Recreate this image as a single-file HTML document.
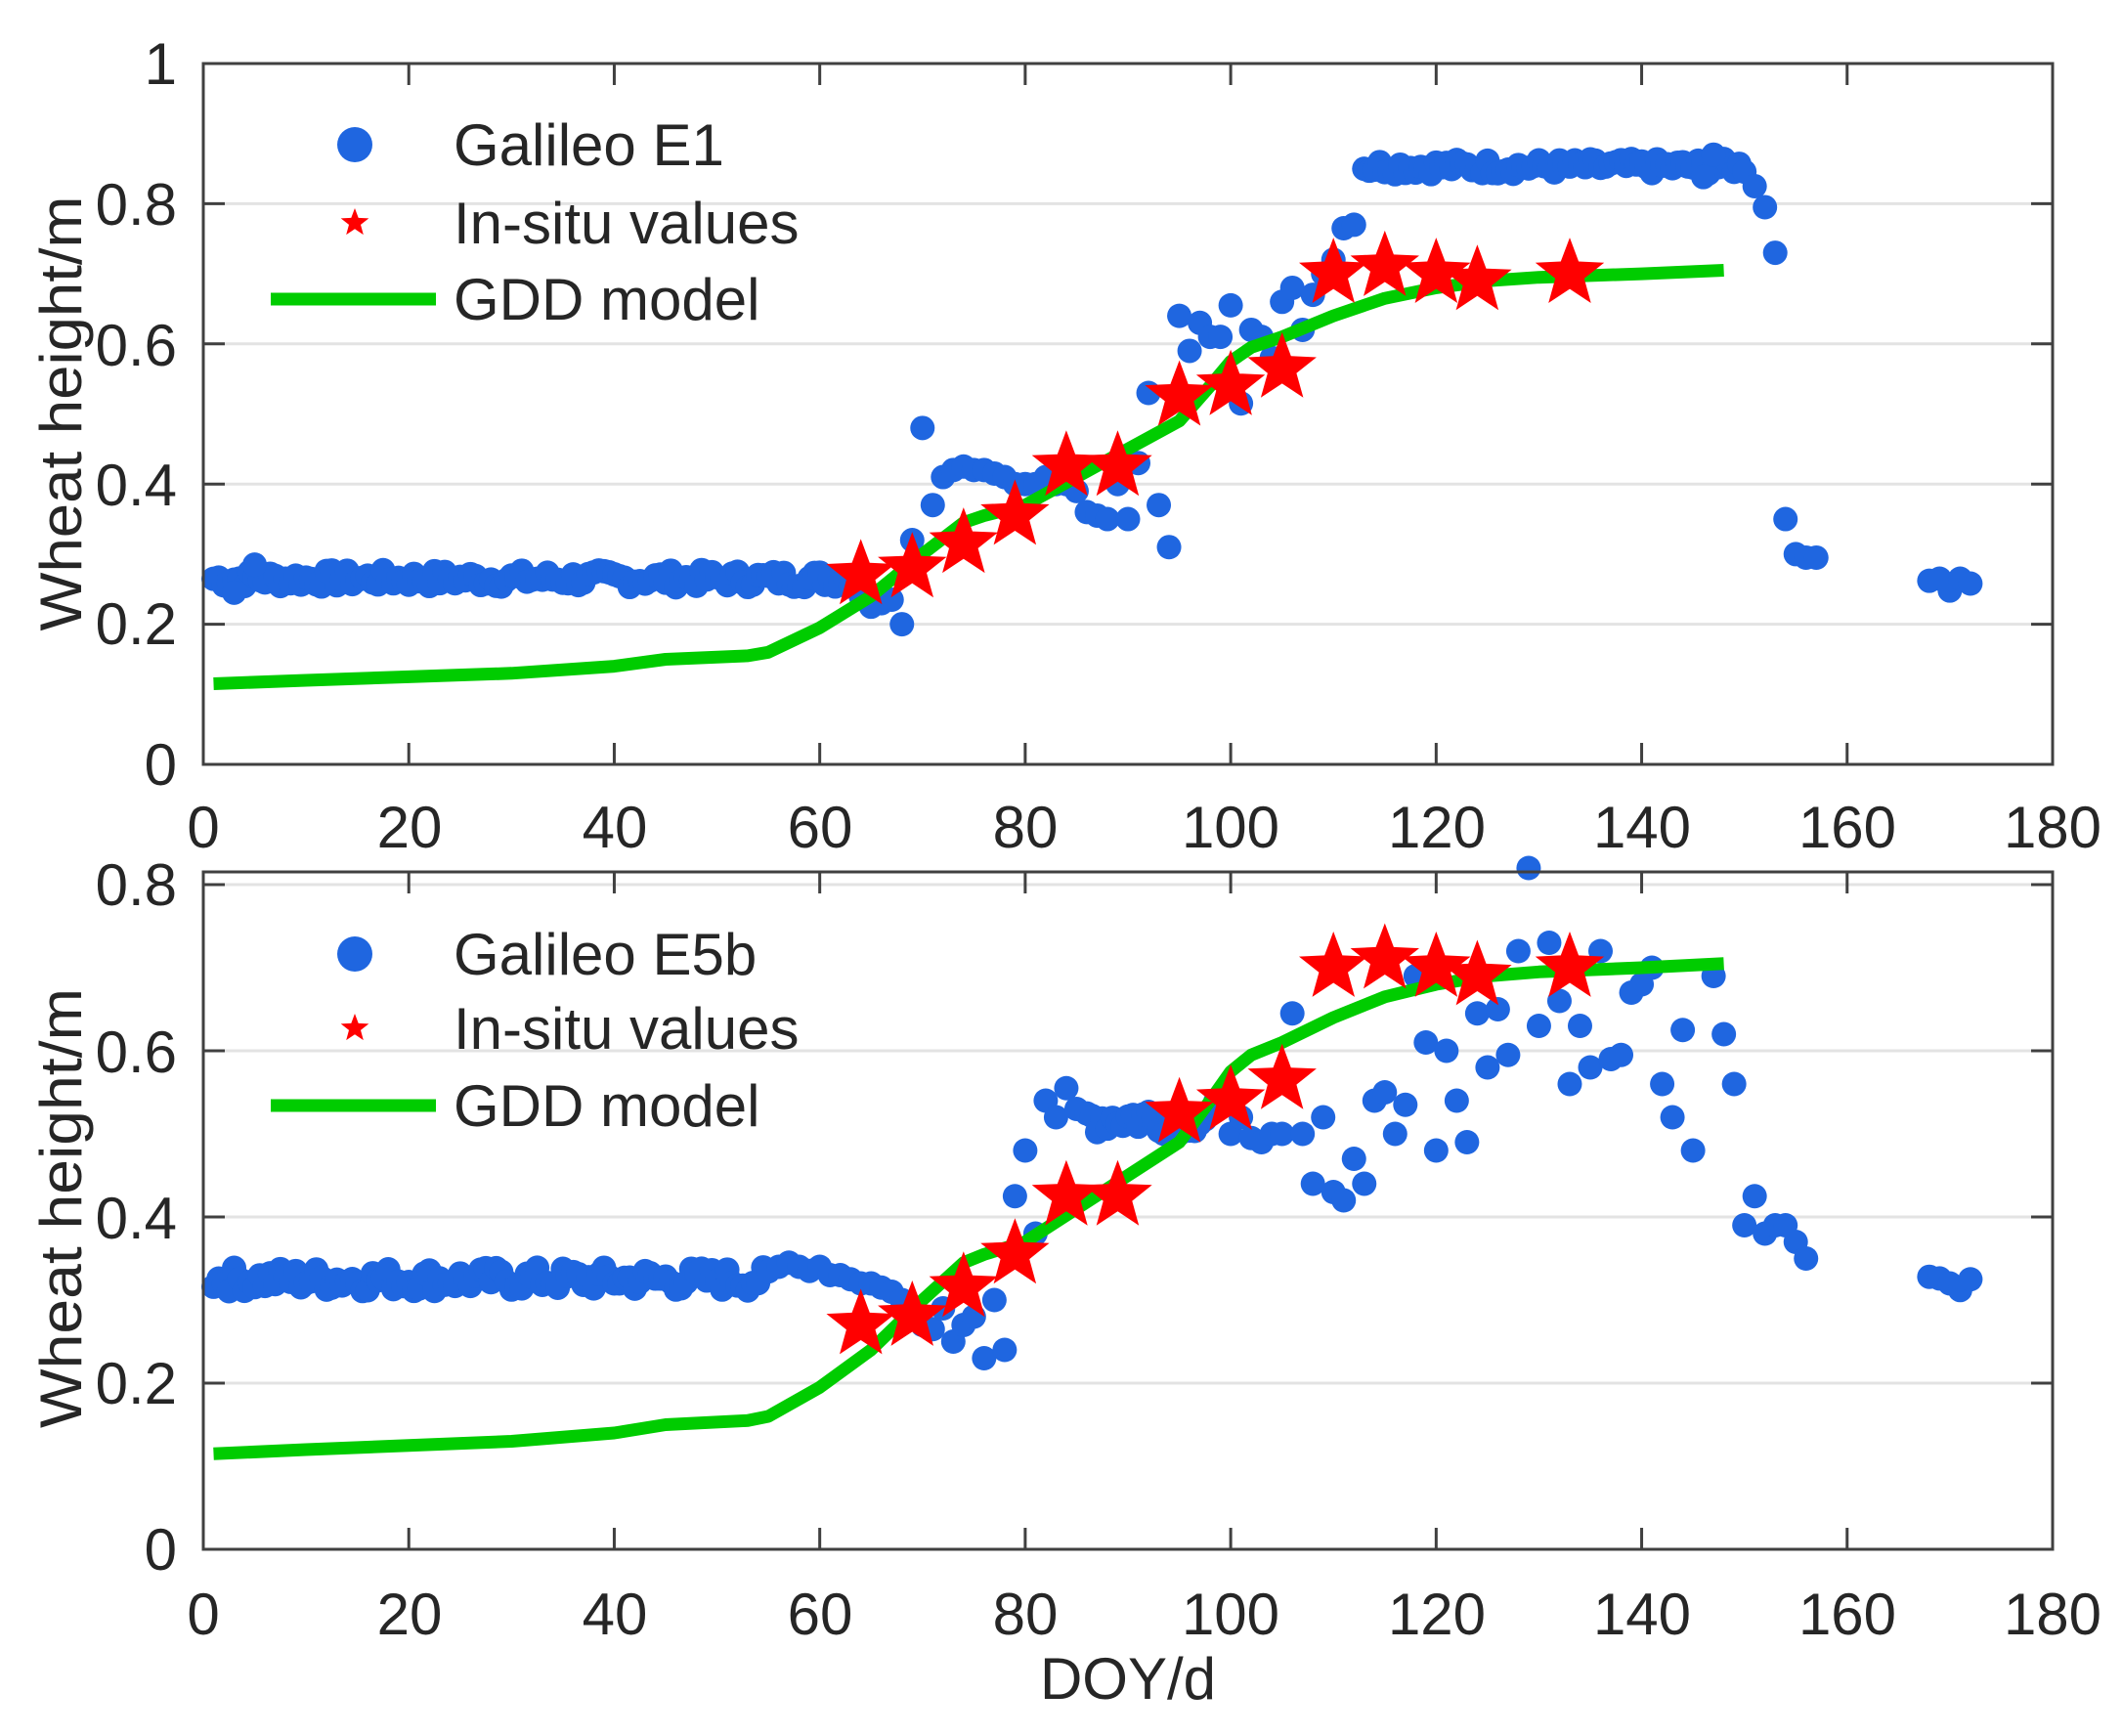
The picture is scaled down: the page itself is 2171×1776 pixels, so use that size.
<!DOCTYPE html>
<html><head><meta charset="utf-8"><style>
html,body{margin:0;padding:0;background:#fff;}
svg{display:block;}
text{font-family:"Liberation Sans",Arial,sans-serif;fill:#262626;}
</style></head><body>
<svg id="s" width="2171" height="1776" viewBox="0 0 2171 1776" xmlns="http://www.w3.org/2000/svg">
<rect width="2171" height="1776" fill="#fff"/>
<g id="g"></g>
<g font-size="60" text-anchor="end">
<text x="181" y="86">1</text>
<text x="181" y="230">0.8</text>
<text x="181" y="374">0.6</text>
<text x="181" y="517">0.4</text>
<text x="181" y="659">0.2</text>
<text x="181" y="803">0</text>
</g>
<g font-size="60" text-anchor="middle">
<text x="208" y="867">0</text><text x="419" y="867">20</text><text x="629" y="867">40</text>
<text x="839" y="867">60</text><text x="1049" y="867">80</text><text x="1259" y="867">100</text>
<text x="1470" y="867">120</text><text x="1680" y="867">140</text><text x="1890" y="867">160</text>
<text x="2100" y="867">180</text>
</g>
<g font-size="60" text-anchor="middle">
<text x="208" y="1672">0</text><text x="419" y="1672">20</text><text x="629" y="1672">40</text>
<text x="839" y="1672">60</text><text x="1049" y="1672">80</text><text x="1259" y="1672">100</text>
<text x="1470" y="1672">120</text><text x="1680" y="1672">140</text><text x="1890" y="1672">160</text>
<text x="2100" y="1672">180</text>
</g>
<g font-size="60" text-anchor="end">
<text x="181" y="926">0.8</text>
<text x="181" y="1097">0.6</text>
<text x="181" y="1267">0.4</text>
<text x="181" y="1436">0.2</text>
<text x="181" y="1606">0</text>
</g>
<text font-size="60" text-anchor="middle" transform="translate(83,423) rotate(-90)" textLength="445" lengthAdjust="spacingAndGlyphs">Wheat height/m</text>
<text font-size="60" text-anchor="middle" transform="translate(83,1236) rotate(-90)" textLength="450" lengthAdjust="spacingAndGlyphs">Wheat height/m</text>
<text font-size="60" x="1154" y="1738" text-anchor="middle">DOY/d</text>
<g font-size="60">
<text x="464" y="169">Galileo E1</text>
<text x="464" y="249">In-situ values</text>
<text x="464" y="327">GDD model</text>
<text x="464" y="997">Galileo E5b</text>
<text x="464" y="1073">In-situ values</text>
<text x="464" y="1152">GDD model</text>
</g>
</svg>
<script>
var g=document.getElementById('g'),NS='http://www.w3.org/2000/svg';
function el(t,a){var e=document.createElementNS(NS,t);for(var k in a)e.setAttribute(k,a[k]);g.appendChild(e);return e;}
var X0=208,XS=(2100-208)/180;
function px(d){return X0+d*XS;}
function star(cx,cy,R){var r=R*0.42,p=[];for(var i=0;i<10;i++){var a=-Math.PI/2+i*Math.PI/5,rr=i%2?r:R;p.push((cx+rr*Math.cos(a)).toFixed(1)+','+(cy+rr*Math.sin(a)).toFixed(1));}el('polygon',{points:p.join(' '),fill:'#ff0000'});}
var stars=[[64,.27],[69,.28],[74,.315],[79,.355],[84,.425],[89,.425],[95,.525],[100,.54],[105,.565],[110,.70],[115,.71],[120,.70],[124,.69],[133,.70]];
var gdd=[[1,.115],[10,.12],[20,.125],[30,.13],[40,.14],[45,.15],[53,.155],[55,.16],[60,.195],[65,.24],[70,.30],[74,.345],[76,.355],[80,.37],[85,.41],[90,.45],[95,.49],[98,.54],[100,.575],[102,.595],[105,.61],[110,.64],[115,.665],[120,.68],[125,.69],[130,.695],[140,.70],[148,.705]];
var seed=7;function rnd(){seed=(seed*9301+49297)%233280;return seed/233280;}
var e1=[];for(var d=1;d<=63;d+=0.5)e1.push([d,.265+(rnd()-.5)*.025]);e1.push([3,.245],[5,.285]);
[[64,.24],[65,.225],[66,.23],[67,.235],[68,.2],[69,.32],[70,.48],[71,.37],[72,.41],[73,.42],[74,.425],[75,.42],[76,.42],[77,.415],[78,.41],[79,.40],[80,.40],[81,.40],[82,.41],[83,.40],[84,.40],[85,.39],[86,.36],[87,.355],[88,.35],[89,.40],[90,.35],[91,.43],[92,.53],[93,.37],[94,.31],[95,.64],[96,.59],[97,.63],[98,.61],[99,.61],[100,.655],[101,.515],[102,.62],[103,.61],[104,.58],[105,.66],[106,.68],[107,.62],[108,.67],[109,.70],[110,.72],[111,.765],[112,.77]].forEach(function(p){e1.push(p);});
for(d=113;d<=150;d+=0.5)e1.push([d,.853+(rnd()-.5)*.022]);e1.push([146,.838],[147,.87]);
[[151,.825],[152,.795],[153,.73],[154,.35],[155,.30],[156,.295],[157,.295],[168,.262],[169,.265],[170,.248],[171,.265],[172,.258]].forEach(function(p){e1.push(p);});
var e5=[];for(d=1;d<=55;d+=0.5)e5.push([d,.325+(rnd()-.5)*.03]);
[[56,.34],[57,.345],[58,.34],[59,.335],[60,.34],[61,.33],[62,.33],[63,.325],[64,.32],[65,.32],[66,.315],[67,.31],[68,.30],[69,.29],[70,.27],[71,.265],[72,.29],[73,.25],[74,.27],[75,.28],[76,.23],[77,.30],[78,.24],[79,.425],[80,.48],[81,.38],[82,.54],[83,.52],[84,.555],[85,.53],[100,.50],[101,.52],[102,.495],[103,.49],[104,.50],[105,.50],[106,.645],[107,.50],[108,.44],[109,.52],[110,.43],[111,.42],[112,.47],[113,.44],[114,.54],[115,.55],[116,.50],[117,.535],[118,.69],[119,.61],[120,.48],[121,.60],[122,.54],[123,.49],[124,.645],[125,.58],[126,.65],[127,.595],[128,.72],[129,.82],[130,.63],[131,.73],[132,.66],[133,.56],[134,.63],[135,.58],[136,.72],[137,.59],[138,.595],[139,.67],[140,.68],[141,.70],[142,.56],[143,.52],[144,.625],[145,.48],[147,.69],[148,.62],[149,.56],[150,.39],[151,.425],[152,.38],[153,.39],[154,.39],[155,.37],[156,.35],[168,.328],[169,.326],[170,.32],[171,.312],[172,.325]].forEach(function(p){e5.push(p);});
for(d=86;d<=99;d+=0.5)e5.push([d,.52+(rnd()-.5)*.04]);
function panel(top,y0,yTick,vTick,ticks,data){
  var sc=(y0-yTick)/vTick;function py(v){return y0-v*sc;}
  ticks.forEach(function(v){if(v>0&&py(v)>top+2)el('line',{x1:X0,x2:2100,y1:py(v),y2:py(v),stroke:'#e3e3e3','stroke-width':3});});
  data.forEach(function(p){el('circle',{cx:px(p[0]),cy:py(p[1]),r:12.5,fill:'#1f66e0'});});
  var pts=gdd.map(function(p){return px(p[0]).toFixed(1)+','+py(p[1]).toFixed(1);}).join(' ');
  el('polyline',{points:pts,fill:'none',stroke:'#00cc00','stroke-width':13,'stroke-linejoin':'round'});
  stars.forEach(function(s){star(px(s[0]),py(s[1]),37);});
  el('rect',{x:X0,y:top,width:2100-X0,height:y0-top,fill:'none',stroke:'#404040','stroke-width':3});
  for(var k=1;k<9;k++){var x=px(k*20);el('line',{x1:x,x2:x,y1:y0,y2:y0-22,stroke:'#404040','stroke-width':3});el('line',{x1:x,x2:x,y1:top,y2:top+22,stroke:'#404040','stroke-width':3});}
  ticks.forEach(function(v){if(v>0&&py(v)>top+2){el('line',{x1:X0,x2:X0+22,y1:py(v),y2:py(v),stroke:'#404040','stroke-width':3});el('line',{x1:2100,x2:2078,y1:py(v),y2:py(v),stroke:'#404040','stroke-width':3});}});
}
panel(65,782,65,1,[0,.2,.4,.6,.8,1],e1);
panel(892,1585,905,0.8,[0,.2,.4,.6,.8],e5);
el('circle',{cx:363,cy:148,r:18,fill:'#1f66e0'});star(363,228,15);
el('line',{x1:277,x2:446,y1:306,y2:306,stroke:'#00cc00','stroke-width':13});
el('circle',{cx:363,cy:976,r:18,fill:'#1f66e0'});star(363,1052,15);
el('line',{x1:277,x2:446,y1:1131,y2:1131,stroke:'#00cc00','stroke-width':13});
</script>
</body></html>
